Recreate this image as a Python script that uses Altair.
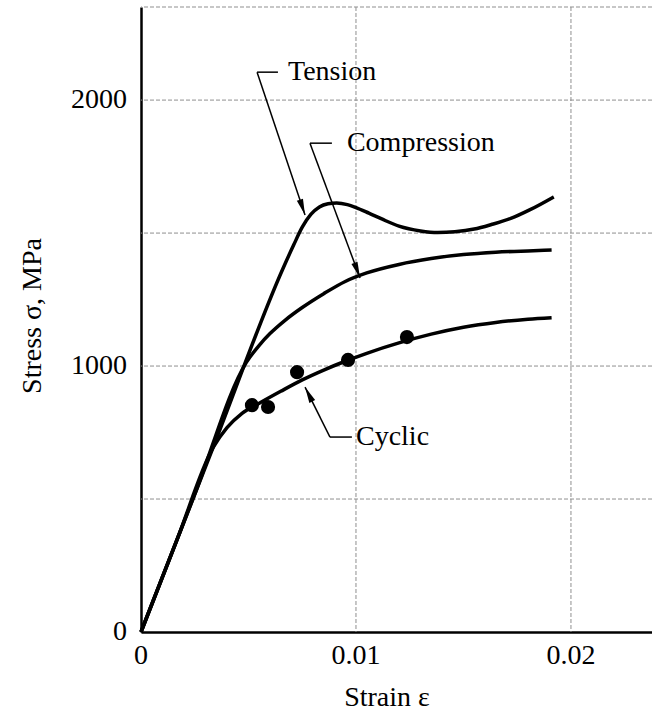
import altair as alt
import pandas as pd

FONT = "Liberation Serif"

# ---- data ----
tension_strain = [0, 0.0034, 0.0066, 0.0071, 0.0075, 0.0079, 0.0083, 0.0087, 0.0091, 0.0096, 0.0100,
                  0.0106, 0.0112, 0.0120, 0.0130, 0.0138, 0.0146, 0.0155, 0.0163, 0.0172, 0.0181, 0.0192]
tension_stress = [0, 704, 1366, 1455, 1522, 1570, 1598, 1610, 1613, 1607, 1596,
                  1575, 1553, 1526, 1508, 1502, 1505, 1515, 1532, 1555, 1588, 1636]

compression_strain = [0, 0.0025, 0.0049, 0.0055, 0.0060, 0.0067, 0.0075, 0.0085, 0.0095, 0.0105,
                      0.0120, 0.0135, 0.0150, 0.0165, 0.0180, 0.0191]
compression_stress = [0, 518, 1014, 1078, 1122, 1172, 1220, 1272, 1318, 1350,
                      1382, 1404, 1419, 1428, 1433, 1436]

cyclic_strain = [0, 0.00168, 0.00335, 0.0040, 0.0047, 0.0055, 0.0065, 0.0075, 0.0085, 0.0095,
                 0.0105, 0.0120, 0.0135, 0.0150, 0.0165, 0.0180, 0.0191]
cyclic_stress = [0, 348, 693, 768, 822, 860, 905, 948, 985, 1018,
                 1048, 1087, 1120, 1146, 1164, 1176, 1182]

point_strain = [0.00516, 0.00591, 0.00726, 0.00963, 0.01237]
point_stress = [853, 846, 977, 1023, 1109]

label_text = ["Tension", "Compression", "Cyclic"]
label_strain = [0.00684, 0.00958, 0.01000]
label_stress = [2105, 1838, 733]
leader_start_strain = [0.00540, 0.00786, 0.00879]
leader_knee_strain = [0.00637, 0.00888, 0.00981]
arrow_tip_strain = [0.00763, 0.01019, 0.00763]
arrow_tip_stress = [1568, 1331, 921]
arrow_angle = [161.4, 159.7, 333.4]

grid_stress = [500, 1000, 1500, 2000, 2350]
grid_strain = [0.01, 0.02]

x_ticks = [0, 0.01, 0.02]
x_tick_labels = ["0", "0.01", "0.02"]
y_ticks = [0, 1000, 2000]
y_tick_labels = ["0", "1000", "2000"]
x_title = "Strain ε"
y_title = "Stress σ, MPa"

# ---- tables ----
curves = pd.concat([
    pd.DataFrame({"strain": tension_strain, "stress": tension_stress, "series": "Tension"}),
    pd.DataFrame({"strain": compression_strain, "stress": compression_stress, "series": "Compression"}),
    pd.DataFrame({"strain": cyclic_strain, "stress": cyclic_stress, "series": "Cyclic"}),
], ignore_index=True)
curves["order"] = range(len(curves))

points = pd.DataFrame({"strain": point_strain, "stress": point_stress})
labels = pd.DataFrame({"strain": label_strain, "stress": label_stress, "text": label_text})
horiz = pd.DataFrame({"strain": leader_start_strain, "strain2": leader_knee_strain,
                      "stress": label_stress, "stress2": label_stress})
diag = pd.DataFrame({"strain": leader_start_strain, "strain2": arrow_tip_strain,
                     "stress": label_stress, "stress2": arrow_tip_stress})
heads = pd.DataFrame({"strain": arrow_tip_strain, "stress": arrow_tip_stress, "angle": arrow_angle})
hgrid = pd.DataFrame({"stress": grid_stress})
vgrid = pd.DataFrame({"strain": grid_strain})
xtl = pd.DataFrame({"strain": x_ticks, "text": x_tick_labels})
ytl = pd.DataFrame({"stress": y_ticks, "text": y_tick_labels})
xtt = pd.DataFrame({"text": [x_title]})
ytt = pd.DataFrame({"text": [y_title]})

xs = alt.Scale(domain=[0, 0.02377], nice=False, zero=False)
ys = alt.Scale(domain=[0, 2350], nice=False, zero=False)

x_axis = alt.Axis(values=x_ticks, grid=False, ticks=False, labels=False, title=None,
                  domainColor="black", domainWidth=2.5)
y_axis = alt.Axis(values=y_ticks, grid=False, ticks=False, labels=False, title=None,
                  domainColor="black", domainWidth=2.5)


def X(field="strain:Q"):
    return alt.X(field, scale=xs, axis=x_axis)


def Y(field="stress:Q"):
    return alt.Y(field, scale=ys, axis=y_axis)


gridcol = "#8f8f8f"
hg = alt.Chart(hgrid).mark_rule(color=gridcol, strokeWidth=1, strokeDash=[4, 2]).encode(y=Y())
vg = alt.Chart(vgrid).mark_rule(color=gridcol, strokeWidth=1, strokeDash=[4, 2]).encode(x=X())

lines = alt.Chart(curves).mark_line(color="black", strokeWidth=3.5, interpolate="monotone").encode(
    x=X(), y=Y(), detail="series:N", order="order:Q")

dots = alt.Chart(points).mark_point(filled=True, color="black", size=200, shape="circle",
                                    opacity=1).encode(x=X(), y=Y())

h_lead = alt.Chart(horiz).mark_rule(color="black", strokeWidth=1.5).encode(
    x=X(), x2="strain2:Q", y=Y(), y2="stress2:Q")
d_lead = alt.Chart(diag).mark_rule(color="black", strokeWidth=1.5).encode(
    x=X(), x2="strain2:Q", y=Y(), y2="stress2:Q")

arrow_heads = alt.Chart(heads).mark_point(filled=True, color="black", opacity=1, size=260,
                                          shape="M0,0L0.4,2L-0.4,2Z").encode(
    x=X(), y=Y(), angle=alt.Angle("angle:Q", scale=None))

texts = alt.Chart(labels).mark_text(font=FONT, fontSize=28, align="left", baseline="middle",
                                    color="black").encode(x=X(), y=Y(), text="text:N")

# tick labels and axis titles as serif text
x_labels = alt.Chart(xtl).mark_text(font=FONT, fontSize=28, align="center", baseline="middle",
                                    color="black", dy=24).encode(
    x=X(), y=alt.value(625), text="text:N")
y_labels = alt.Chart(ytl).mark_text(font=FONT, fontSize=28, align="right", baseline="middle",
                                    color="black", dx=-14).encode(
    x=alt.value(0), y=Y(), text="text:N")
x_title_mark = alt.Chart(xtt).mark_text(font=FONT, fontSize=28, align="center", baseline="middle",
                                        color="black").encode(
    x=alt.value(246), y=alt.value(691), text="text:N")
y_title_mark = alt.Chart(ytt).mark_text(font=FONT, fontSize=28, align="center", baseline="middle",
                                        color="black", angle=270).encode(
    x=alt.value(-108), y=alt.value(309), text="text:N")

chart = alt.layer(hg, vg, lines, dots, h_lead, d_lead, arrow_heads, texts,
                  x_labels, y_labels, x_title_mark, y_title_mark).properties(
    width=511, height=625,
    padding={"left": 141, "top": 7, "right": 0, "bottom": 81},
    autosize=alt.AutoSizeParams(type="none"),
    background="white",
).configure_view(stroke=None)

chart.save("out.html", embed_options={"renderer": "svg", "actions": False})
